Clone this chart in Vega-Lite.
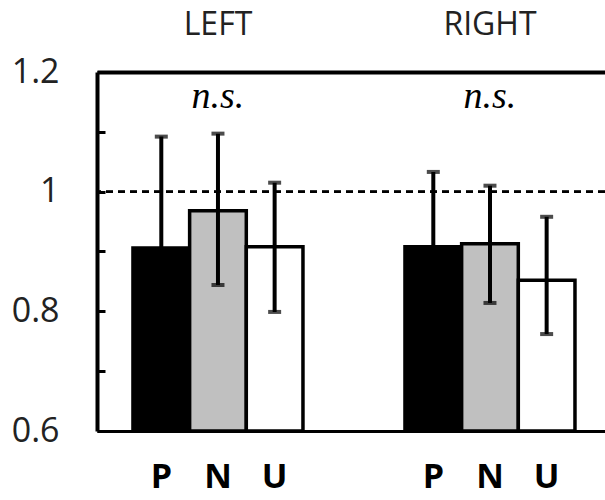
{
  "$schema": "https://vega.github.io/schema/vega-lite/v6.json",
  "autosize": {"type": "none"},
  "padding": {"left": 97, "top": 72, "right": 0, "bottom": 69},
  "width": 508,
  "height": 359,
  "background": "white",
  "config": {"view": {"stroke": null}},
  "datasets": {
    "bars": [
      {"group": "LEFT", "cond": "P", "value": 0.906, "lo": 0.72, "hi": 1.092},
      {"group": "LEFT", "cond": "N", "value": 0.968, "lo": 0.844, "hi": 1.097},
      {"group": "LEFT", "cond": "U", "value": 0.908, "lo": 0.799, "hi": 1.015},
      {"group": "RIGHT", "cond": "P", "value": 0.908, "lo": 0.783, "hi": 1.033},
      {"group": "RIGHT", "cond": "N", "value": 0.913, "lo": 0.814, "hi": 1.010},
      {"group": "RIGHT", "cond": "U", "value": 0.852, "lo": 0.762, "hi": 0.958}
    ],
    "sig": [
      {"group": "LEFT", "label": "n.s."},
      {"group": "RIGHT", "label": "n.s."}
    ]
  },
  "data": {"name": "bars"},
  "resolve": {"axis": {"x": "independent"}},
  "layer": [
    {
      "mark": {"type": "bar", "stroke": "black", "strokeWidth": 3.5},
      "encoding": {
        "x": {
          "field": "group", "type": "nominal", "sort": ["LEFT", "RIGHT"],
          "scale": {"paddingInner": 0.375, "paddingOuter": 0.1213, "align": 0.545},
          "axis": {"orient": "top", "title": null, "ticks": false, "domain": true, "domainColor": "black", "domainWidth": 4, "labelFont": "Open Sans", "labelFontSize": 32, "labelColor": "#222", "labelPadding": 31, "labelAngle": 0}
        },
        "xOffset": {"field": "cond", "type": "nominal", "sort": ["P", "N", "U"], "scale": {"paddingInner": 0, "paddingOuter": 0}},
        "y": {
          "field": "value", "type": "quantitative",
          "scale": {"domain": [0.6, 1.2], "nice": false, "zero": false},
          "axis": {"title": null, "values": [0.6, 0.7, 0.8, 0.9, 1.0, 1.1, 1.2], "labelExpr": "round(datum.value*10) % 2 == 0 ? format(datum.value, '~g') : ''", "grid": false, "domainColor": "black", "domainWidth": 4, "tickColor": "black", "tickWidth": 3, "tickSize": -8, "labelPadding": 46, "labelFont": "Open Sans", "labelFontSize": 34, "labelColor": "#222"}
        },
        "y2": {"datum": 0.6},
        "fill": {"field": "cond", "type": "nominal", "scale": {"domain": ["P", "N", "U"], "range": ["#000000", "#c0c0c0", "#ffffff"]}, "legend": null}
      }
    },
    {
      "mark": {"type": "rule", "color": "black", "strokeWidth": 4},
      "encoding": {
        "x": {"field": "group", "type": "nominal", "sort": ["LEFT", "RIGHT"], "axis": null},
        "xOffset": {"field": "cond", "type": "nominal", "sort": ["P", "N", "U"]},
        "y": {"field": "lo", "type": "quantitative"},
        "y2": {"field": "hi"}
      }
    },
    {
      "mark": {"type": "tick", "color": "black", "size": 13, "thickness": 4, "orient": "horizontal"},
      "encoding": {
        "x": {"field": "group", "type": "nominal", "sort": ["LEFT", "RIGHT"], "axis": null},
        "xOffset": {"field": "cond", "type": "nominal", "sort": ["P", "N", "U"]},
        "y": {"field": "hi", "type": "quantitative"}
      }
    },
    {
      "mark": {"type": "tick", "color": "black", "size": 13, "thickness": 4, "orient": "horizontal"},
      "encoding": {
        "x": {"field": "group", "type": "nominal", "sort": ["LEFT", "RIGHT"], "axis": null},
        "xOffset": {"field": "cond", "type": "nominal", "sort": ["P", "N", "U"]},
        "y": {"field": "lo", "type": "quantitative"}
      }
    },
    {
      "mark": {"type": "rule", "color": "black", "strokeWidth": 2, "strokeDash": [7, 5]},
      "encoding": {"y": {"datum": 1}}
    },
    {
      "mark": {"type": "text", "font": "Open Sans", "fontWeight": "bold", "fontSize": 34, "color": "black", "baseline": "alphabetic", "dy": 57},
      "encoding": {
        "x": {
          "field": "group", "type": "nominal", "sort": ["LEFT", "RIGHT"],
          "axis": {"orient": "bottom", "title": null, "labels": false, "ticks": false, "domain": true, "domainColor": "black", "domainWidth": 3}
        },
        "xOffset": {"field": "cond", "type": "nominal", "sort": ["P", "N", "U"]},
        "y": {"datum": 0.6},
        "text": {"field": "cond"}
      }
    },
    {
      "data": {"name": "sig"},
      "mark": {"type": "text", "font": "Liberation Serif", "fontStyle": "italic", "fontSize": 38, "color": "black", "baseline": "alphabetic"},
      "encoding": {
        "x": {"field": "group", "type": "nominal", "sort": ["LEFT", "RIGHT"], "axis": null},
        "y": {"datum": 1.14},
        "text": {"field": "label"}
      }
    }
  ]
}
